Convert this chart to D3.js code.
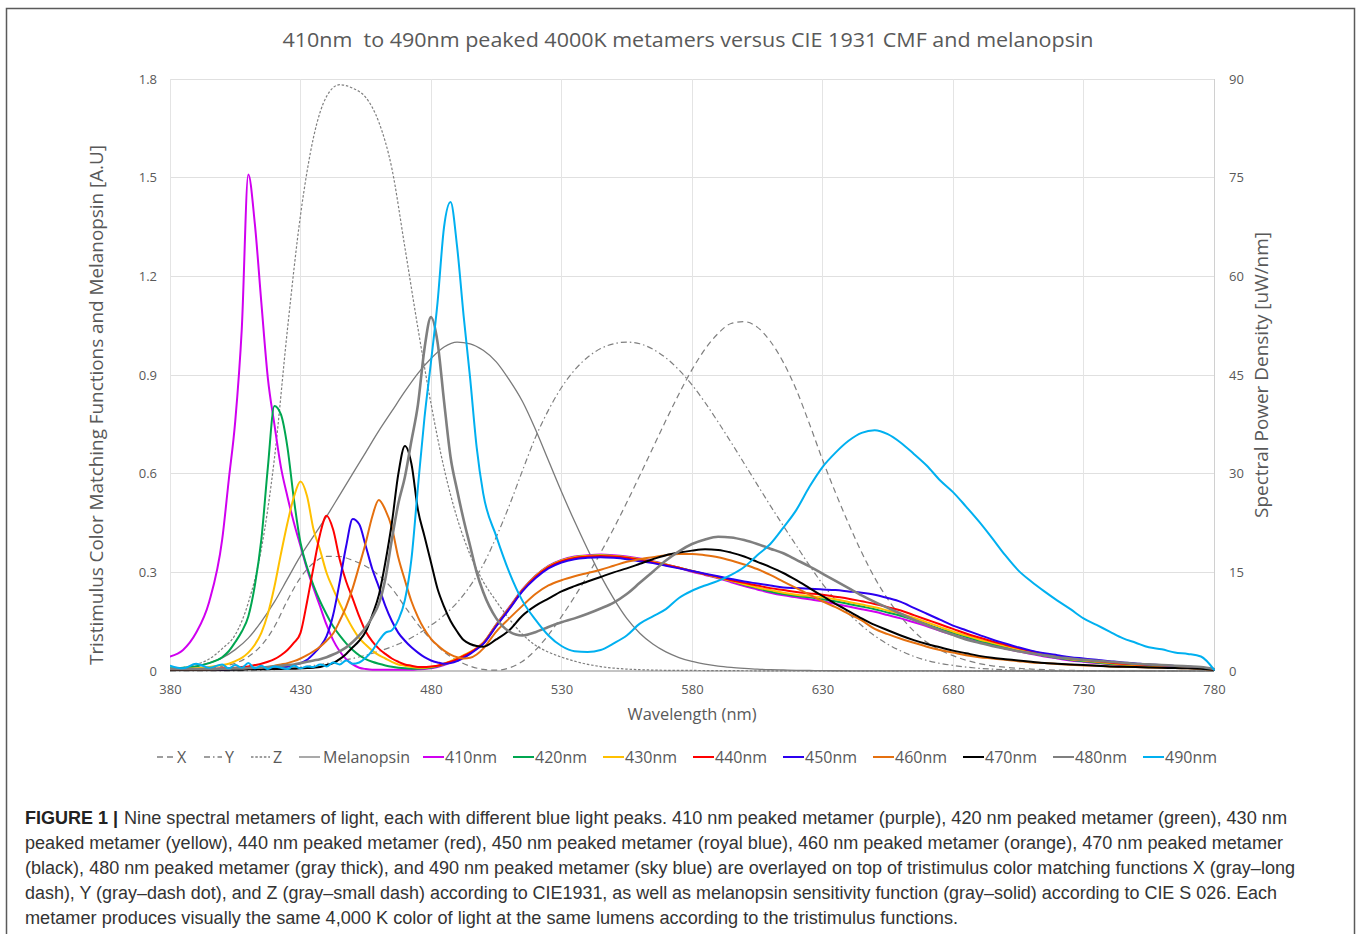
<!DOCTYPE html>
<html><head><meta charset="utf-8">
<script src="https://cdn.jsdelivr.net/npm/d3@7"></script>
<style>body{margin:0;background:#fff} svg{display:block}</style>
</head><body><svg id="c" width="1360" height="934"></svg>
<script>
// ---------- DATA ----------
const xTicks = [380, 430, 480, 530, 580, 630, 680, 730, 780];
const yLeftTicks = [0, 0.3, 0.6, 0.9, 1.2, 1.5, 1.8];
const yRightTicks = [0, 15, 30, 45, 60, 75, 90];

// CIE 1931 2° colour matching functions and melanopsin (left axis)
const cieWl = [380,385,390,395,400,405,410,415,420,425,430,435,440,445,450,455,460,465,470,475,480,485,490,495,500,505,510,515,520,525,530,535,540,545,550,555,560,565,570,575,580,585,590,595,600,605,610,615,620,625,630,635,640,645,650,655,660,665,670,675,680,685,690,695,700,705,710,715,720,725,730,735,740,745,750,755,760,765,770,775,780];
const cmfX = [0.0014,0.0022,0.0042,0.0077,0.0143,0.0232,0.0435,0.0776,0.1344,0.2148,0.2839,0.3285,0.3483,0.3481,0.3362,0.3187,0.2908,0.2511,0.1954,0.1421,0.0956,0.0580,0.0320,0.0147,0.0049,0.0024,0.0093,0.0291,0.0633,0.1096,0.1655,0.2257,0.2904,0.3597,0.4334,0.5121,0.5945,0.6784,0.7621,0.8425,0.9163,0.9786,1.0263,1.0567,1.0622,1.0456,1.0026,0.9384,0.8544,0.7514,0.6424,0.5419,0.4479,0.3608,0.2835,0.2187,0.1649,0.1212,0.0874,0.0636,0.0468,0.0329,0.0227,0.0158,0.0114,0.0081,0.0058,0.0041,0.0029,0.0020,0.0014,0.0010,0.0007,0.0005,0.0003,0.0002,0.0002,0.0001,0.0001,0.0001,0.0000];
const cmfY = [0.0000,0.0001,0.0001,0.0002,0.0004,0.0006,0.0012,0.0022,0.0040,0.0073,0.0116,0.0168,0.0230,0.0298,0.0380,0.0480,0.0600,0.0739,0.0910,0.1126,0.1390,0.1693,0.2080,0.2586,0.3230,0.4073,0.5030,0.6082,0.7100,0.7932,0.8620,0.9149,0.9540,0.9803,0.9950,1.0000,0.9950,0.9786,0.9520,0.9154,0.8700,0.8163,0.7570,0.6949,0.6310,0.5668,0.5030,0.4412,0.3810,0.3210,0.2650,0.2170,0.1750,0.1382,0.1070,0.0816,0.0610,0.0446,0.0320,0.0232,0.0170,0.0119,0.0082,0.0057,0.0041,0.0029,0.0021,0.0015,0.0010,0.0007,0.0005,0.0004,0.0002,0.0002,0.0001,0.0001,0.0001,0.0000,0.0000,0.0000,0.0000];
const cmfZ = [0.0065,0.0106,0.0201,0.0362,0.0679,0.1102,0.2074,0.3713,0.6456,1.0391,1.3856,1.6230,1.7471,1.7826,1.7721,1.7441,1.6692,1.5281,1.2876,1.0419,0.8130,0.6162,0.4652,0.3533,0.2720,0.2123,0.1582,0.1117,0.0783,0.0573,0.0422,0.0298,0.0203,0.0134,0.0088,0.0058,0.0039,0.0028,0.0021,0.0018,0.0017,0.0014,0.0011,0.0010,0.0008,0.0006,0.0003,0.0002,0.0002,0.0001,0.0001,0,0,0,0,0,0,0,0,0,0,0,0,0,0,0,0,0,0,0,0,0,0,0,0,0,0,0,0,0,0];
const melanopsin = [0.005,0.008,0.015,0.025,0.040,0.065,0.100,0.150,0.210,0.280,0.350,0.410,0.470,0.535,0.600,0.665,0.730,0.790,0.850,0.905,0.950,0.985,1.000,0.995,0.975,0.940,0.885,0.820,0.735,0.640,0.545,0.455,0.370,0.290,0.220,0.160,0.115,0.082,0.058,0.041,0.029,0.021,0.015,0.011,0.008,0.0055,0.004,0.003,0.002,0.0015,0.001,0.0008,0.0006,0.0005,0.0004,0.0003,0.0002,0.0002,0.0001,0.0001,0,0,0,0,0,0,0,0,0,0,0,0,0,0,0,0,0,0,0,0,0];

// Metamer spectra (right axis, uW/nm)
const wl = [380,385,390,395,
  400,402.5,405,407.5,410,412.5,415,417.5,420,422.5,425,427.5,430,432.5,435,437.5,440,442.5,445,447.5,450,
  452.5,455,457.5,460,462.5,465,467.5,470,472.5,475,477.5,480,482.5,485,487.5,490,492.5,495,497.5,500,
  505,510,515,520,525,530,535,540,545,550,555,560,565,570,575,580,585,590,595,600,605,610,615,620,625,630,635,640,
  645,650,655,660,665,670,675,680,685,690,695,700,705,710,715,720,725,730,735,740,745,750,755,760,765,770,775,780];

const s410 = [2.2,3.2,5.8,10.5,
  20.0,29.0,38.0,52.0,75.5,68.0,56.0,44.5,37.5,31.0,26.5,22.5,19.0,15.5,12.6,9.8,7.0,4.7,3.0,1.8,1.0,
  0.5,0.3,0.2,0.2,0.2,0.2,0.2,0.2,0.2,0.25,0.3,0.4,0.6,0.9,1.3,1.8,2.3,2.8,3.5,4.3,
  7.1,9.7,12.4,14.5,16.0,16.9,17.4,17.6,17.7,17.6,17.4,17.1,16.7,16.2,15.7,15.1,14.6,14.1,13.5,12.9,12.4,11.9,11.5,11.2,10.9,10.6,10.2,9.8,
  9.4,9.0,8.5,8.0,7.4,6.8,6.1,5.5,4.9,4.4,3.9,3.4,3.0,2.6,2.2,1.9,1.6,1.4,1.2,1.05,0.9,0.8,0.7,0.65,0.55,0.5,0.4,0.2];
const s420 = [0.4,0.5,0.7,1.2,
  2.1,3.0,4.4,6.0,8.3,13.0,20.0,31.0,40.3,39.0,34.0,26.0,19.5,15.8,13.0,10.6,8.6,6.8,5.4,4.2,3.2,
  2.4,1.8,1.4,1.1,0.85,0.65,0.5,0.4,0.35,0.35,0.4,0.5,0.7,1.0,1.4,1.8,2.3,2.8,3.4,4.2,
  7.0,9.6,12.3,14.4,15.9,16.8,17.3,17.5,17.6,17.5,17.3,17.0,16.6,16.2,15.7,15.2,14.7,14.2,13.7,13.1,12.6,12.1,11.7,11.4,11.2,10.9,10.6,10.2,
  9.8,9.4,8.9,8.4,7.8,7.1,6.4,5.8,5.2,4.6,4.1,3.6,3.1,2.7,2.3,2.0,1.7,1.5,1.3,1.1,0.95,0.85,0.75,0.7,0.6,0.5,0.4,0.2];
const s430 = [0.3,0.3,0.4,0.6,
  0.9,1.1,1.5,2.0,2.8,4.0,5.8,8.7,12.8,17.8,22.5,26.5,28.8,26.6,21.5,18.4,14.9,12.5,10.3,8.3,6.5,
  5.0,4.0,3.1,2.4,1.9,1.4,1.0,0.8,0.6,0.5,0.5,0.6,0.8,1.1,1.5,1.9,2.4,2.9,3.5,4.3,
  7.0,9.6,12.3,14.4,15.9,16.8,17.3,17.5,17.6,17.5,17.3,17.0,16.6,16.2,15.7,15.2,14.7,14.2,13.7,13.2,12.7,12.3,11.9,11.6,11.4,11.2,10.9,10.5,
  10.1,9.7,9.2,8.7,8.1,7.4,6.7,6.0,5.4,4.8,4.3,3.8,3.3,2.8,2.4,2.1,1.8,1.6,1.4,1.2,1.0,0.9,0.8,0.7,0.6,0.55,0.45,0.2];
const s440 = [0.2,0.2,0.3,0.3,
  0.4,0.4,0.5,0.6,0.7,0.9,1.1,1.4,1.8,2.4,3.2,4.3,5.8,10.5,15.8,20.8,23.6,21.5,17.0,13.6,11.0,
  8.3,6.0,4.5,3.4,2.6,1.9,1.4,1.0,0.8,0.6,0.6,0.7,0.8,1.1,1.4,1.8,2.3,2.8,3.4,4.2,
  6.9,9.5,12.2,14.3,15.8,16.7,17.2,17.4,17.5,17.4,17.2,16.9,16.5,16.1,15.7,15.2,14.7,14.3,13.8,13.4,13.0,12.6,12.3,12.0,11.8,11.6,11.3,11.0,
  10.6,10.2,9.7,9.2,8.5,7.8,7.1,6.4,5.7,5.1,4.5,4.0,3.5,3.0,2.6,2.2,1.9,1.7,1.5,1.3,1.1,1.0,0.9,0.8,0.7,0.6,0.5,0.2];
const s450 = [0.2,0.2,0.2,0.2,
  0.2,0.25,0.3,0.3,0.3,0.35,0.4,0.45,0.5,0.6,0.7,0.9,1.2,1.7,2.6,3.7,5.3,8.5,13.5,19.0,23.1,
  22.3,19.0,15.5,12.8,9.9,7.6,5.8,4.6,3.6,2.8,2.1,1.6,1.3,1.1,1.2,1.5,2.0,2.6,3.3,4.1,
  6.8,9.4,12.1,14.1,15.6,16.5,17.0,17.2,17.3,17.2,17.0,16.7,16.4,16.0,15.6,15.2,14.8,14.4,14.0,13.6,13.3,13.0,12.7,12.6,12.5,12.4,12.3,12.1,
  11.9,11.6,11.1,10.5,9.6,8.7,7.8,6.9,6.2,5.5,4.8,4.2,3.6,3.1,2.7,2.4,2.1,1.9,1.7,1.5,1.3,1.15,1.0,0.9,0.75,0.65,0.5,0.2];
const s460 = [0.2,0.2,0.2,0.2,
  0.25,0.3,0.3,0.35,0.4,0.45,0.5,0.6,0.8,1.0,1.2,1.5,1.9,2.4,3.0,3.7,4.6,5.7,7.6,9.8,12.6,
  16.0,19.5,23.5,26.0,24.5,21.8,17.2,13.8,10.6,8.2,6.3,4.9,3.9,3.1,2.5,2.1,1.9,2.0,2.5,3.4,
  6.0,8.0,9.9,11.7,13.0,13.8,14.4,14.9,15.4,16.0,16.6,17.0,17.3,17.6,17.8,17.8,17.6,17.3,16.8,16.2,15.5,14.6,13.6,12.6,11.6,10.6,9.7,8.7,
  7.7,6.4,5.6,4.9,4.3,3.7,3.2,2.8,2.4,2.1,1.9,1.7,1.5,1.3,1.2,1.05,0.95,0.85,0.8,0.7,0.65,0.6,0.55,0.5,0.45,0.4,0.35,0.2];
const s470 = [0.2,0.2,0.2,0.2,
  0.2,0.2,0.2,0.2,0.25,0.25,0.25,0.3,0.3,0.3,0.35,0.35,0.4,0.45,0.5,0.6,0.9,1.2,1.8,2.6,3.6,
  4.6,6.0,8.5,11.5,16.5,22.5,30.0,34.2,31.5,24.5,20.5,16.5,12.5,9.8,7.6,6.0,4.7,4.1,3.8,3.7,
  4.8,6.2,8.4,9.9,11.0,12.1,12.9,13.6,14.3,15.0,15.6,16.3,17.0,17.6,18.0,18.3,18.5,18.4,18.0,17.4,16.6,15.8,14.9,13.8,12.6,11.4,10.2,9.1,
  8.0,7.0,6.2,5.4,4.7,4.1,3.6,3.1,2.7,2.3,2.0,1.8,1.6,1.4,1.2,1.1,1.0,0.9,0.8,0.7,0.65,0.6,0.55,0.5,0.45,0.4,0.35,0.2];
const s480 = [0.3,0.3,0.3,0.3,
  0.35,0.35,0.4,0.4,0.45,0.5,0.5,0.6,0.7,0.8,0.9,1.0,1.2,1.4,1.6,1.8,2.1,2.5,3.0,3.6,4.4,
  5.4,6.6,8.2,10.2,14.0,20.0,25.5,29.5,35.0,40.5,49.0,53.8,50.0,41.0,32.5,27.5,23.0,19.0,15.0,12.0,
  8.0,6.0,5.4,5.9,6.7,7.4,8.0,8.7,9.5,10.4,11.7,13.4,15.1,16.8,18.2,19.3,20.0,20.4,20.3,19.9,19.3,18.6,17.9,16.9,15.9,14.8,13.7,12.6,
  11.5,10.5,9.6,8.7,7.8,7.0,6.2,5.5,4.8,4.3,3.8,3.4,3.0,2.7,2.4,2.1,1.9,1.7,1.55,1.4,1.25,1.1,1.0,0.9,0.8,0.7,0.6,0.3];
const s490 = [0.8,0.4,1.1,0.5,
  1.0,0.4,0.9,0.5,1.2,0.4,0.8,0.3,0.7,0.5,0.3,0.8,0.4,0.7,0.6,1.0,0.7,1.3,1.0,1.6,1.1,
  1.3,2.0,3.1,4.6,5.8,6.2,7.8,10.8,17.0,28.0,38.5,47.0,56.0,67.5,71.3,64.5,54.0,44.5,34.0,27.0,
  20.5,15.0,10.7,7.8,5.4,3.8,3.0,2.9,3.2,4.2,5.4,7.2,8.3,9.4,11.1,12.2,13.0,13.7,14.6,15.8,17.6,19.3,21.8,24.5,28.0,31.0,33.2,35.0,
  36.2,36.6,36.0,34.7,33.0,31.2,29.0,27.2,25.0,22.7,20.2,17.6,15.3,13.6,12.1,10.7,9.4,8.0,7.0,6.0,5.0,4.3,3.6,3.3,2.8,2.6,2.2,0.2];

const legendLabels = ["X","Y","Z","Melanopsin","410nm","420nm","430nm","440nm","450nm","460nm","470nm","480nm","490nm"];

// ---------- STYLE / LAYOUT ----------
const cmfSeries = [
  {name:"X", values:cmfX, color:"#7f7f7f", width:1.2, dash:"6,4"},
  {name:"Y", values:cmfY, color:"#7f7f7f", width:1.2, dash:"6,3,1.5,3"},
  {name:"Z", values:cmfZ, color:"#7f7f7f", width:1.2, dash:"2.5,1.8"},
  {name:"Melanopsin", values:melanopsin, color:"#7a7a7a", width:1.3, dash:null}
];
const metSeries = [
  {name:"410nm", values:s410, color:"#d000f0", width:2},
  {name:"420nm", values:s420, color:"#00a650", width:2},
  {name:"430nm", values:s430, color:"#ffc000", width:2},
  {name:"440nm", values:s440, color:"#ff0000", width:2},
  {name:"450nm", values:s450, color:"#2b00f0", width:2},
  {name:"460nm", values:s460, color:"#e5700f", width:2},
  {name:"470nm", values:s470, color:"#000000", width:2},
  {name:"480nm", values:s480, color:"#7f7f7f", width:2.6},
  {name:"490nm", values:s490, color:"#00b0f0", width:2}
];

const FONT = "'Open Sans', 'Noto Sans', sans-serif";
const TXT = "#595959";
const svg = d3.select("#c");

const x = d3.scaleLinear().domain([380,780]).range([170,1214]);
const yL = d3.scaleLinear().domain([0,1.8]).range([671,79]);
const yR = d3.scaleLinear().domain([0,90]).range([671,79]);

svg.append("rect").attr("width",1360).attr("height",934).attr("fill","#fff");
svg.append("rect").attr("x",6.5).attr("y",8.5).attr("width",1348).attr("height",940)
  .attr("fill","none").attr("stroke","#5a5a5a").attr("stroke-width",1.5);

// gridlines
const grid = svg.append("g");
grid.selectAll(".gy").data(yLeftTicks.filter(d=>d>0)).join("line")
  .attr("x1",x(380)).attr("x2",x(780)).attr("y1",d=>yL(d)).attr("y2",d=>yL(d))
  .attr("stroke","#e0e0e0").attr("stroke-width",1).attr("shape-rendering","crispEdges");
grid.selectAll(".gx").data(xTicks).join("line")
  .attr("x1",d=>x(d)).attr("x2",d=>x(d)).attr("y1",yL(1.8)).attr("y2",yL(0))
  .attr("stroke",d=>d===780?"#d0d0d0":"#e4e4e4").attr("stroke-width",1).attr("shape-rendering","crispEdges");
grid.append("line").attr("x1",x(380)).attr("x2",x(780)).attr("y1",yL(0)).attr("y2",yL(0))
  .attr("stroke","#b0b0b0").attr("stroke-width",1.3);

// axes
function styleAxis(g){
  g.select(".domain").remove();
  g.selectAll(".tick line").remove();
  g.selectAll("text").attr("fill",TXT).style("font-family",FONT).style("font-size","13px");
}
svg.append("g").attr("transform","translate(170,0)")
  .call(d3.axisLeft(yL).tickValues(yLeftTicks).tickSize(0).tickPadding(13).tickFormat(d=>d===0?"0":d3.format(".1f")(d)))
  .call(styleAxis);
svg.append("g").attr("transform","translate(1214,0)")
  .call(d3.axisRight(yR).tickValues(yRightTicks).tickSize(0).tickPadding(15).tickFormat(d3.format("d")))
  .call(styleAxis);
svg.append("g").attr("transform","translate(0,671)")
  .call(d3.axisBottom(x).tickValues(xTicks).tickSize(0).tickPadding(14).tickFormat(d3.format("d")))
  .call(styleAxis);

// titles
svg.append("text").attr("x",688).attr("y",47).attr("text-anchor","middle")
  .attr("textLength",811).attr("lengthAdjust","spacingAndGlyphs")
  .style("white-space","pre").style("font-family",FONT).style("font-size","20px").attr("fill",TXT)
  .text("410nm  to 490nm peaked 4000K metamers versus CIE 1931 CMF and melanopsin");
svg.append("text").attr("transform","translate(103,405) rotate(-90)").attr("text-anchor","middle")
  .attr("textLength",520).attr("lengthAdjust","spacingAndGlyphs")
  .style("font-family",FONT).style("font-size","18px").attr("fill",TXT)
  .text("Tristimulus Color Matching Functions and Melanopsin [A.U]");
svg.append("text").attr("transform","translate(1268,375) rotate(-90)").attr("text-anchor","middle")
  .attr("textLength",286).attr("lengthAdjust","spacingAndGlyphs")
  .style("font-family",FONT).style("font-size","18px").attr("fill",TXT)
  .text("Spectral Power Density [uW/nm]");
svg.append("text").attr("x",692).attr("y",720).attr("text-anchor","middle")
  .attr("textLength",129).attr("lengthAdjust","spacingAndGlyphs")
  .style("font-family",FONT).style("font-size","16px").attr("fill",TXT)
  .text("Wavelength (nm)");

// plot clip
svg.append("clipPath").attr("id","plot").append("rect")
  .attr("x",x(380)).attr("y",yL(1.8)-5).attr("width",x(780)-x(380)+1).attr("height",yL(0)-yL(1.8)+6);
const plot = svg.append("g").attr("clip-path","url(#plot)");

const lineL = d3.line().x((d,i)=>x(cieWl[i])).y(d=>yL(d)).curve(d3.curveMonotoneX);
cmfSeries.forEach(s=>{
  plot.append("path").datum(s.values).attr("d",lineL)
    .attr("fill","none").attr("stroke",s.color).attr("stroke-width",s.width)
    .attr("stroke-dasharray",s.dash).attr("stroke-linejoin","round");
});
const lineR = d3.line().x((d,i)=>x(wl[i])).y(d=>yR(d)).curve(d3.curveMonotoneX);
metSeries.forEach(s=>{
  plot.append("path").datum(s.values).attr("d",lineR)
    .attr("fill","none").attr("stroke",s.color).attr("stroke-width",s.width)
    .attr("stroke-linejoin","round").attr("stroke-linecap","round");
});

// legend
const allSeries = cmfSeries.concat(metSeries);
const legX = [157,204,251,299,423,513,603,693,783,873,963,1053,1143];
const legLen = [17,18,19,21,21,21,21,21,21,21,21,21,21];
const lg = svg.append("g");
legendLabels.forEach((lab,i)=>{
  const s = allSeries[i];
  lg.append("line").attr("x1",legX[i]).attr("x2",legX[i]+legLen[i]).attr("y1",757).attr("y2",757)
    .attr("stroke",s.color).attr("stroke-width",i<4?1.3:2).attr("stroke-dasharray",s.dash||null);
  lg.append("text").attr("x",legX[i]+legLen[i]+(i<4?3:1)).attr("y",763)
    .style("font-family",FONT).style("font-size","16px").attr("fill",TXT).text(lab);
});

// caption
const CAP = "'Liberation Sans Narrow','Liberation Sans', Arial, sans-serif";
const capLines = [
  "Nine spectral metamers of light, each with different blue light peaks. 410 nm peaked metamer (purple), 420 nm peaked metamer (green), 430 nm",
  "peaked metamer (yellow), 440 nm peaked metamer (red), 450 nm peaked metamer (royal blue), 460 nm peaked metamer (orange), 470 nm peaked metamer",
  "(black), 480 nm peaked metamer (gray thick), and 490 nm peaked metamer (sky blue) are overlayed on top of tristimulus color matching functions X (gray\u2013long",
  "dash), Y (gray\u2013dash dot), and Z (gray\u2013small dash) according to CIE1931, as well as melanopsin sensitivity function (gray\u2013solid) according to CIE S 026. Each",
  "metamer produces visually the same 4,000 K color of light at the same lumens according to the tristimulus functions."
];
const capStart = [124,25,25,25,25];
const capEnd = [1287,1283,1295,1277,958];
svg.append("text").attr("x",25).attr("y",824).attr("textLength",93).attr("lengthAdjust","spacingAndGlyphs")
  .style("font-family",CAP).style("font-size","18px").style("font-weight","bold").attr("fill","#222")
  .text("FIGURE 1 |");
capLines.forEach((t,i)=>{
  svg.append("text").attr("x",capStart[i]).attr("y",824+25*i)
    .attr("textLength",capEnd[i]-capStart[i]).attr("lengthAdjust","spacingAndGlyphs")
    .style("font-family",CAP).style("font-size","18px").attr("fill","#333").text(t);
});
</script>
</body></html>
